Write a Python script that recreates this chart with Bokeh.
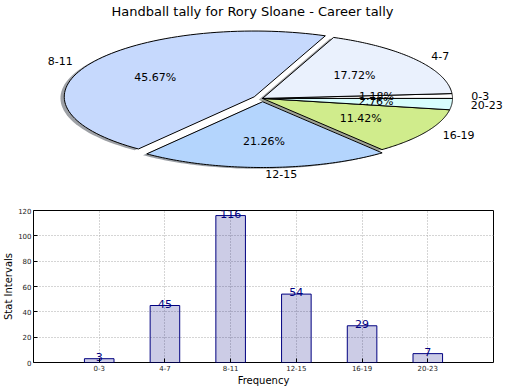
import numpy as np
from bokeh.plotting import figure
from bokeh.layouts import column, row
from bokeh.models import Range1d, FixedTicker, ColumnDataSource
from bokeh.core.properties import value
from bokeh.embed import file_html
from bokeh.resources import INLINE

# ---- data ----
categories = ["0-3", "4-7", "8-11", "12-15", "16-19", "20-23"]
counts = [3, 45, 116, 54, 29, 7]
explode = [0.0, 0.0, 0.05, 0.05, 0.0, 0.0]
pie_colors = ["#ffffff", "#eaf1fd", "#c6d9fd", "#b4d5fd", "#d0ec8c", "#d8fdfd"]
title_text = "Handball tally for Rory Sloane - Career tally"
x_label = "Frequency"
y_label = "Stat Intervals"
y_ticks = [0, 20, 40, 60, 80, 100, 120]

FONT = "DejaVu Sans"

# ---- pie (elliptical, like matplotlib without equal aspect) ----
W = 504
PIE_H = 186
TITLE_H = 21
px_per_x = 190.0
px_per_y = 65.0
cx_px = 262.0            # centre in figure pixels (x)
cy_px = 99.0 - TITLE_H   # centre below frame top (y)
frame_h = PIE_H - TITLE_H

pie = figure(width=W, height=PIE_H, output_backend="svg", toolbar_location=None,
             x_axis_type=None, y_axis_type=None,
             x_range=Range1d(-cx_px / px_per_x, (W - cx_px) / px_per_x),
             y_range=Range1d(-(frame_h - cy_px) / px_per_y, cy_px / px_per_y),
             min_border=0, title=title_text)
pie.grid.visible = False
pie.outline_line_color = None
pie.title.align = "center"
pie.title.text_font = FONT
pie.title.text_font_size = "13px"
pie.title.text_font_style = "normal"
pie.title.text_color = "black"
pie.title.standoff = 2

vals = np.array(counts, dtype=float)
frac = vals / vals.sum()
bounds = np.concatenate([[0.0], np.cumsum(frac)]) * 2 * np.pi

xs, ys, sxs, sys_, sh_cols = [], [], [], [], []
lab_l, lab_r, pct = {"x": [], "y": [], "t": []}, {"x": [], "y": [], "t": []}, {"x": [], "y": [], "t": []}
for i, cat in enumerate(categories):
    t = np.linspace(bounds[i], bounds[i + 1], 80)
    mid = 0.5 * (bounds[i] + bounds[i + 1])
    ox, oy = explode[i] * np.cos(mid), explode[i] * np.sin(mid)
    px = np.concatenate([[0.0], np.cos(t), [0.0]]) + ox
    py = np.concatenate([[0.0], np.sin(t), [0.0]]) + oy
    xs.append(list(px)); ys.append(list(py))
    sxs.append(list(px - 0.02)); sys_.append(list(py - 0.02))
    c = pie_colors[i].lstrip("#")
    r, g, b = (int(c[k:k + 2], 16) for k in (0, 2, 4))
    sh_cols.append("#%02x%02x%02x" % (int(r * 0.3), int(g * 0.3), int(b * 0.3)))
    lx = 1.1 * np.cos(mid) + ox
    ly = 1.1 * np.sin(mid) + oy
    d = lab_l if lx > 0 else lab_r
    d["x"].append(lx); d["y"].append(ly); d["t"].append(cat)
    pct["x"].append(0.6 * np.cos(mid) + ox)
    pct["y"].append(0.6 * np.sin(mid) + oy)
    pct["t"].append("%1.2f%%" % (frac[i] * 100))

pie.patches(xs=sxs, ys=sys_, fill_color=sh_cols, fill_alpha=0.5, line_color=None)
pie.patches(xs=xs, ys=ys, fill_color=pie_colors, line_color="black", line_width=1)
for src, al in ((lab_l, "left"), (lab_r, "right"), (pct, "center")):
    pie.text(x="x", y="y", text="t", source=ColumnDataSource(src), text_align=al,
             text_baseline="middle", text_font_size="11px", text_font=value(FONT),
             text_color="black")

# ---- bar chart ----
BAR_H = 202
xpos = list(range(len(categories)))
bar = figure(width=W, height=BAR_H, output_backend="svg", toolbar_location=None,
             x_range=Range1d(-1, 6), y_range=Range1d(0, 120),
             min_border_top=24, min_border_right=11, min_border_left=0, min_border_bottom=0)
bar.vbar(x=xpos, top=counts, width=0.45, fill_color="navy", fill_alpha=0.2,
         line_color="navy", line_width=1)
bar.text(x=xpos, y=counts, text=[str(v) for v in counts], text_align="center",
         text_baseline="bottom", text_font_size="11px", text_font=value(FONT),
         text_color="navy", y_offset=2)

bar.outline_line_color = "black"
bar.outline_line_width = 1
bar.xaxis.ticker = FixedTicker(ticks=xpos)
bar.xaxis.major_label_overrides = {i: c for i, c in enumerate(categories)}
bar.yaxis.ticker = FixedTicker(ticks=y_ticks)
bar.xaxis.axis_label = x_label
bar.yaxis.axis_label = y_label
for ax in (bar.xaxis, bar.yaxis):
    ax.major_tick_in = 4
    ax.major_tick_out = 0
    ax.minor_tick_line_color = None
    ax.axis_line_color = None
    ax.major_label_text_font = FONT
    ax.major_label_text_font_size = "7px"
    ax.major_label_text_color = "#222222"
    ax.major_label_standoff = 2
    ax.axis_label_text_font = FONT
    ax.axis_label_text_font_size = "10px"
    ax.axis_label_text_font_style = "normal"
    ax.axis_label_text_color = "black"
    ax.axis_label_standoff = 1
bar.xgrid.ticker = FixedTicker(ticks=xpos)
bar.ygrid.ticker = FixedTicker(ticks=y_ticks)
bar.grid.grid_line_color = "#aaaaaa"
bar.grid.grid_line_dash = "1 2"
bar.grid.grid_line_width = 1

layout = column(row(pie), row(bar), spacing=0)
open("out.html", "w").write(file_html(layout, INLINE))
